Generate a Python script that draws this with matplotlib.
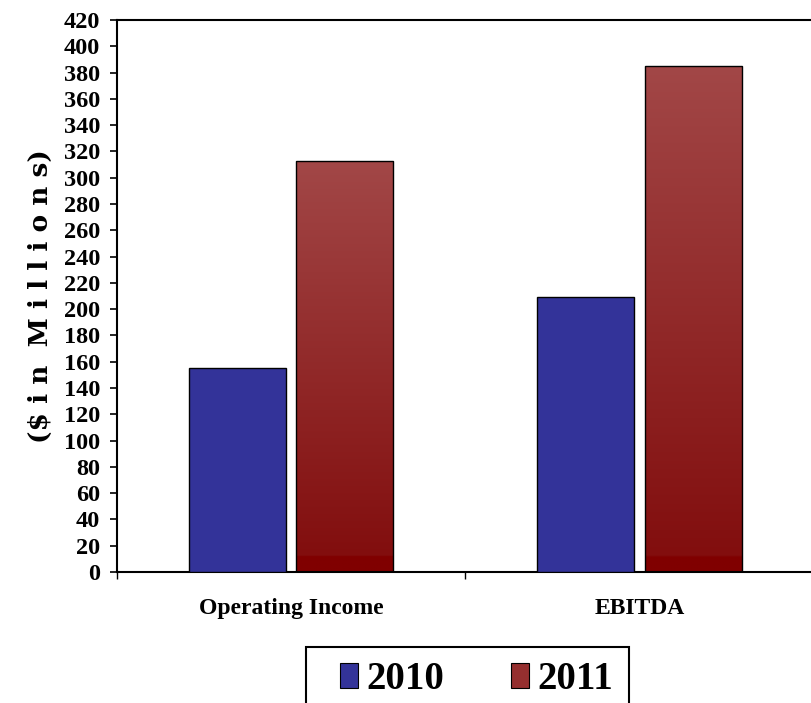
import matplotlib
matplotlib.use("Agg")
import matplotlib.pyplot as plt
import numpy as np
from matplotlib.colors import to_rgb
from matplotlib.patches import Patch, Rectangle

categories = ["Operating Income", "EBITDA"]
series_labels = ["2010", "2011"]
values_2010 = [155, 209]
values_2011 = [313, 385]
y_ticks = list(range(0, 421, 20))

plt.rcParams["font.family"] = ["Liberation Serif", "DejaVu Serif"]
plt.rcParams["font.weight"] = "bold"

BLUE = "#333399"
RED_TOP = "#a24747"
RED_LOW = "#820e0e"
RED_BASE = "#800000"


def gradient_fill(ax, bar, base_height=12):
    x0, y0 = bar.get_x(), bar.get_y()
    w, h = bar.get_width(), bar.get_height()
    ys = np.linspace(y0, y0 + h, 256)
    top = np.array(to_rgb(RED_TOP))
    low = np.array(to_rgb(RED_LOW))
    base = np.array(to_rgb(RED_BASE))
    frac = np.clip((ys - base_height) / (h - base_height), 0, 1)[:, None]
    cols = low + (top - low) * frac
    cols[ys < base_height] = base
    img = cols[:, None, :]
    im = ax.imshow(img, extent=(x0, x0 + w, y0, y0 + h), origin="lower",
                   aspect="auto", zorder=2, interpolation="bilinear")
    im.set_clip_path(bar)


fig = plt.figure(figsize=(8.12, 7.03), dpi=100)
ax = fig.add_axes([0.1441, 0.1863, 0.858, 0.7853])

x = np.arange(len(categories))
width = 0.279
offset = 0.154
bars_2010 = ax.bar(x - offset, values_2010, width, color=BLUE,
                   edgecolor="black", linewidth=1, zorder=3)
bars_2011 = ax.bar(x + offset, values_2011, width, facecolor="none",
                   edgecolor="black", linewidth=1, zorder=3)
for b in bars_2011:
    gradient_fill(ax, b)

ax.set_xlim(-0.5, 1.5)
ax.set_ylim(0, 420)
ax.set_yticks(y_ticks)
ax.tick_params(axis="y", labelsize=17.5, length=5, width=1.2, pad=7)
ax.set_xticks(x, labels=categories)
ax.set_xticks([-0.5, 0.5, 1.5], minor=True)
ax.tick_params(axis="x", which="major", length=0, labelsize=17, pad=19)
ax.tick_params(axis="x", which="minor", length=5, width=1, direction="out")

for side in ["left", "top", "bottom"]:
    ax.spines[side].set_linewidth(1.5)
ax.spines["right"].set_visible(False)

ax.set_ylabel("($ i n  M i l l i o n s)", fontsize=19, fontweight="bold",
              family="DejaVu Serif")
ax.yaxis.set_label_coords(-0.092, 0.5)

handles = [Patch(facecolor=BLUE, edgecolor="black", linewidth=0.8),
           Patch(facecolor="#952f2f", edgecolor="black", linewidth=0.8)]
leg = fig.legend(handles, series_labels, loc="upper left",
                 bbox_to_anchor=(340 / 812, 1 - 661 / 703), ncol=2, fontsize=28,
                 frameon=False, borderpad=0, borderaxespad=0,
                 handlelength=0.46, handleheight=0.6, handletextpad=0.23,
                 columnspacing=1.7)

# legend frame, running off the bottom edge as in the original
fig.patches.append(Rectangle((306 / 812, -0.05), 323 / 812, 56 / 703 + 0.05,
                             transform=fig.transFigure, fill=False,
                             edgecolor="black", linewidth=1.5))

fig.savefig("out.png", dpi=100)
